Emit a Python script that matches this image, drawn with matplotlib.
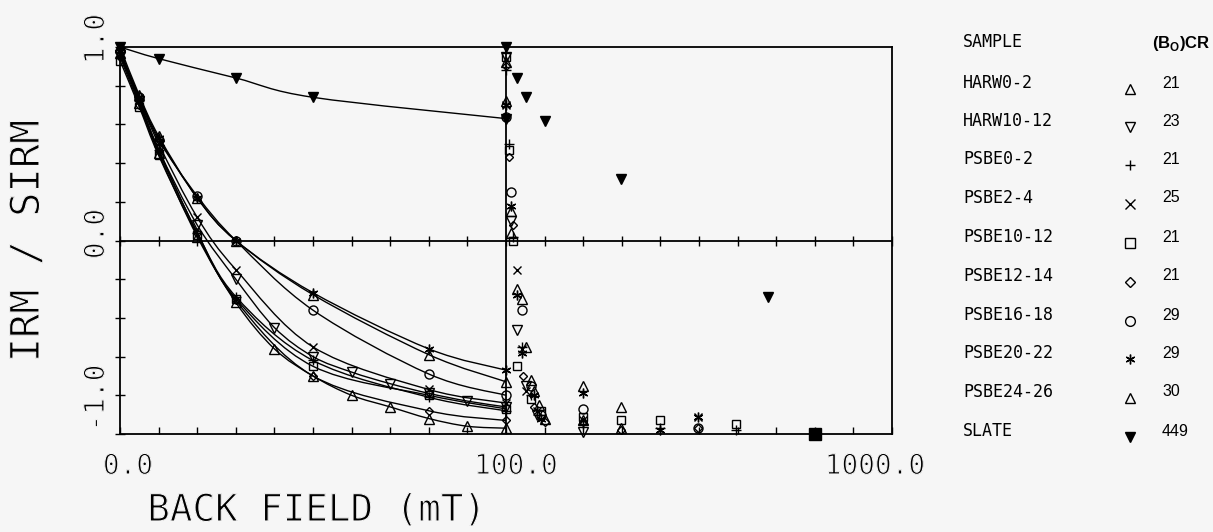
import numpy as np
import matplotlib
matplotlib.use("Agg")
import matplotlib.pyplot as plt
from matplotlib.path import Path
from matplotlib.patches import PathPatch
from matplotlib import patheffects as pe

# ---------------- data ----------------
samples = ["HARW0-2", "HARW10-12", "PSBE0-2", "PSBE2-4", "PSBE10-12",
           "PSBE12-14", "PSBE16-18", "PSBE20-22", "PSBE24-26", "SLATE"]
bcr = ["21", "23", "21", "25", "21", "21", "29", "29", "30", "449"]

# backfield curves, linear part (0-100 mT)
psbe_steps = [0, 5, 10, 20, 30, 50, 80, 100]
harw_steps = [0, 5, 10, 20, 30, 40, 50, 60, 70, 80, 90, 100]
slate_steps = [0, 10, 30, 50, 100]

left_x = {
    "HARW0-2": harw_steps, "HARW10-12": harw_steps,
    "PSBE0-2": psbe_steps, "PSBE2-4": psbe_steps, "PSBE10-12": psbe_steps,
    "PSBE12-14": psbe_steps, "PSBE16-18": psbe_steps, "PSBE20-22": psbe_steps,
    "PSBE24-26": psbe_steps, "SLATE": slate_steps,
}
left_y = {
    "HARW0-2":   [0.97, 0.71, 0.45, 0.02, -0.32, -0.56, -0.70, -0.80, -0.86, -0.92, -0.96, -0.97],
    "HARW10-12": [0.96, 0.72, 0.47, 0.08, -0.20, -0.45, -0.60, -0.68, -0.74, -0.79, -0.83, -0.86],
    "PSBE0-2":   [0.97, 0.72, 0.47, 0.04, -0.29, -0.62, -0.81, -0.88],
    "PSBE2-4":   [0.97, 0.73, 0.50, 0.12, -0.15, -0.55, -0.77, -0.84],
    "PSBE10-12": [0.93, 0.69, 0.44, 0.03, -0.30, -0.65, -0.80, -0.87],
    "PSBE12-14": [0.95, 0.70, 0.46, 0.04, -0.31, -0.70, -0.88, -0.93],
    "PSBE16-18": [0.98, 0.74, 0.52, 0.23, 0.00, -0.36, -0.69, -0.80],
    "PSBE20-22": [0.98, 0.74, 0.53, 0.22, 0.00, -0.27, -0.56, -0.67],
    "PSBE24-26": [1.00, 0.75, 0.54, 0.22, 0.00, -0.28, -0.59, -0.73],
    "SLATE":     [1.00, 0.94, 0.84, 0.74, 0.63],
}

# log part (100-1000 mT), points only
right_x = {
    "HARW0-2":   [100, 103, 110, 116, 122, 158, 198],
    "HARW10-12": [100, 103, 107, 113, 120, 158],
    "PSBE0-2":   [100, 101.8, 104, 110, 116, 122, 158, 250, 395],
    "PSBE2-4":   [100, 107, 110, 113, 120, 158, 315],
    "PSBE10-12": [100, 101.8, 104, 107, 116, 123, 158, 198, 250, 395],
    "PSBE12-14": [100, 102, 104, 111, 118, 126, 158, 198, 315],
    "PSBE16-18": [100, 103, 110, 116, 123, 158, 315],
    "PSBE20-22": [100, 103, 107, 110, 118, 123, 158, 250, 315],
    "PSBE24-26": [100, 103, 107, 113, 118, 126, 158, 198],
    "SLATE":     [100, 107, 113, 126, 198, 476],
}
right_y = {
    "HARW0-2":   [0.92, 0.04, -0.30, -0.72, -0.85, -0.93, -0.97],
    "HARW10-12": [0.95, 0.10, -0.46, -0.75, -0.90, -0.99],
    "PSBE0-2":   [0.88, 0.50, 0.02, -0.55, -0.80, -0.90, -0.95, -0.97, -0.98],
    "PSBE2-4":   [0.70, -0.15, -0.56, -0.78, -0.88, -0.93, -0.91],
    "PSBE10-12": [0.95, 0.47, 0.00, -0.65, -0.82, -0.88, -0.91, -0.93, -0.93, -0.95],
    "PSBE12-14": [0.90, 0.43, 0.08, -0.70, -0.86, -0.94, -0.94, -0.98, -0.97],
    "PSBE16-18": [0.64, 0.25, -0.36, -0.75, -0.90, -0.87, -0.97],
    "PSBE20-22": [0.70, 0.18, -0.28, -0.58, -0.80, -0.92, -0.79, -0.98, -0.91],
    "PSBE24-26": [0.72, 0.15, -0.25, -0.55, -0.78, -0.92, -0.75, -0.86],
    "SLATE":     [1.00, 0.84, 0.74, 0.62, 0.32, -0.29],
}
# overlapping saturated points at the end
sat_x = [632]
sat_y = [-1.0]

xtick_labels = ["0.0", "100.0", "1000.0"]
ytick_labels = ["1.0", "0.0", "-1.0"]

# ---------------- style ----------------
BG = "#f6f6f6"
markers = {
    "HARW0-2": ("^", "none"), "HARW10-12": ("v", "none"), "PSBE0-2": ("+", "none"),
    "PSBE2-4": ("x", "none"), "PSBE10-12": ("s", "none"), "PSBE12-14": ("D", "none"),
    "PSBE16-18": ("o", "none"), "PSBE20-22": ((6, 2, 0), "none"), "PSBE24-26": ("^", "none"),
    "SLATE": ("v", "black"),
}
msizes = {"^": 7, "v": 7, "+": 7, "x": 6, "s": 6, "D": 4.5, "o": 6.5}

def fwd(x):
    x = np.asarray(x, dtype=float)
    return np.where(x <= 100, x / 100.0, 1 + np.log10(np.maximum(x, 1e-9) / 100.0))

def inv(u):
    u = np.asarray(u, dtype=float)
    return np.where(u <= 1, u * 100.0, 100.0 * 10 ** (u - 1))

def smooth_path(xs, ys):
    pts = np.column_stack([xs, ys]).astype(float)
    verts = [pts[0]]
    codes = [Path.MOVETO]
    n = len(pts)
    for i in range(n - 1):
        p0 = pts[i - 1] if i > 0 else pts[i]
        p1 = pts[i]
        p2 = pts[i + 1]
        p3 = pts[i + 2] if i + 2 < n else pts[i + 1]
        verts += [p1 + (p2 - p0) / 6.0, p2 - (p3 - p1) / 6.0, p2]
        codes += [Path.CURVE4] * 3
    return Path(verts, codes)

W, H = 1213, 532
fig = plt.figure(figsize=(W / 100, H / 100), dpi=100, facecolor=BG)
L, R, T, B = 120, 892, 47, 434
pos = [L / W, 1 - B / H, (R - L) / W, (B - T) / H]
ax = fig.add_axes(pos)
ax.set_facecolor(BG)
ax.set_xscale("function", functions=(fwd, inv))
ax.set_xlim(0, 1000)
ax.set_ylim(-1, 1)

xt = list(range(0, 101, 10)) + [100 * 10 ** (k / 10) for k in range(1, 11)]
ax.set_xticks(xt)
ax.set_xticks([], minor=True)
ax.set_yticks(np.round(np.arange(-1, 1.01, 0.2), 2))
ax.set_yticks([], minor=True)
ax.tick_params(axis="x", direction="in", length=5, width=1.0, labelbottom=False)
ax.tick_params(axis="y", direction="inout", length=7, width=1.0, labelleft=False)
for s in ax.spines.values():
    s.set_linewidth(1.3)

# zero line with crossing ticks
ax0 = fig.add_axes(pos, sharex=ax, sharey=ax)
ax0.patch.set_visible(False)
for k in ["top", "left", "right"]:
    ax0.spines[k].set_visible(False)
ax0.spines["bottom"].set_position(("data", 0))
ax0.spines["bottom"].set_linewidth(1.3)
ax0.tick_params(axis="x", direction="inout", length=7, width=1.0, labelbottom=False)
ax0.yaxis.set_visible(False)

ax.axvline(100, color="black", lw=1.3, zorder=2)

for name in samples:
    m, fc = markers[name]
    ms = 7.5 if name == "SLATE" else msizes.get(m, 7) if isinstance(m, str) else 7
    xs, ys = left_x[name], left_y[name]
    ax.add_patch(PathPatch(smooth_path(xs, ys), fill=False, edgecolor="black", lw=1.0, zorder=3))
    ax.plot(xs, ys, ls="none", marker=m, ms=ms, mfc=fc, mec="black", mew=1.0, zorder=4, clip_on=False)
    ax.plot(right_x[name], right_y[name], ls="none", marker=m, ms=ms, mfc=fc,
            mec="black", mew=1.0, zorder=4, clip_on=False)
ax.plot(sat_x, sat_y, ls="none", marker="s", ms=9, mfc="black", mec="black", zorder=5, clip_on=False)

# ---------------- text ----------------
thin = [pe.Normal(), pe.Stroke(linewidth=0.8, foreground=BG)]
mono = "DejaVu Sans Mono"

def px(x, y):
    return x / W, 1 - y / H

fig.text(*px(28, 241), "IRM / SIRM", rotation=90, ha="center", va="center",
         family=mono, fontsize=29, path_effects=thin)
fig.text(*px(317, 521), "BACK FIELD (mT)", ha="center", va="baseline",
         family=mono, fontsize=27, path_effects=thin)

for lab, xc in zip(xtick_labels, [128, 516, 875]):
    fig.text(*px(xc, 466), lab, ha="center", va="center", family=mono, fontsize=20, path_effects=thin)
for lab, yc in zip(ytick_labels, [39, 234, 398]):
    fig.text(*px(96, yc), lab, rotation=90, ha="center", va="center", family=mono,
             fontsize=20, path_effects=thin)

# legend table
fig.text(*px(963, 42), "SAMPLE", ha="left", va="center", family=mono, fontsize=12)
fig.text(*px(1152, 44), r"(B$_\mathregular{O}$)CR", ha="left", va="center",
         family="Liberation Sans", fontweight="bold", fontsize=12)
row_y = [83, 121, 159, 198, 237, 276, 315, 353, 392, 431]
for name, val, yy in zip(samples, bcr, row_y):
    fig.text(*px(963, yy), name, ha="left", va="center", family=mono, fontsize=12)
    fig.text(*px(1162, yy), val, ha="left", va="center", family="Liberation Sans", fontsize=11.5)
    m, fc = markers[name]
    mx, my = px(1130, yy + 6)
    fig.add_artist(plt.Line2D([mx], [my], transform=fig.transFigure, ls="none", marker=m,
                              ms=7 if name != "PSBE12-14" else 5, mfc=fc, mec="black", mew=1.0))

fig.savefig("out.png", dpi=100, facecolor=BG)
